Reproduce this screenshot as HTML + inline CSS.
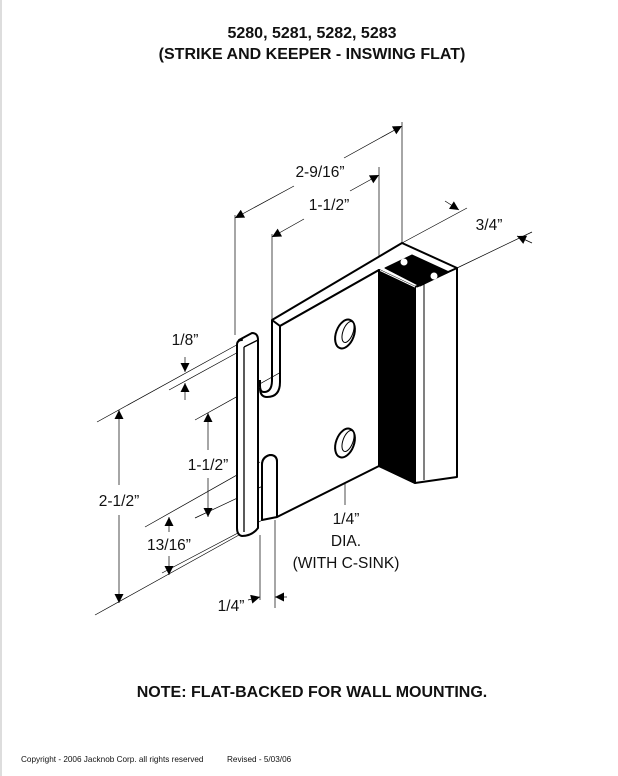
<!DOCTYPE html>
<html><head><meta charset="utf-8"><style>
html,body{margin:0;padding:0;background:#fff;}
body{width:618px;height:776px;overflow:hidden;position:relative;border-left:2px solid #ddd;box-sizing:border-box;}
svg{position:absolute;left:0;top:0;}
text{font-family:"Liberation Sans",Arial,sans-serif;fill:#111;}
</style></head><body>
<svg width="618" height="776" viewBox="0 0 618 776">
<defs>
<marker id="a" viewBox="0 0 10 10" refX="10" refY="5" markerWidth="10" markerHeight="9" markerUnits="userSpaceOnUse" orient="auto-start-reverse"><path d="M0,0 L10,5 L0,10 z" fill="#000"/></marker>
</defs>
<text x="310" y="38" font-size="16" font-weight="bold" text-anchor="middle">5280, 5281, 5282, 5283</text>
<text x="310" y="59" font-size="16" font-weight="bold" text-anchor="middle">(STRIKE AND KEEPER - INSWING FLAT)</text>

<g stroke="#000" stroke-width="0.7" fill="none">
<line x1="233" y1="215" x2="233" y2="335"/>
<line x1="400" y1="122" x2="400" y2="243"/>
<line x1="270" y1="234" x2="270" y2="320"/>
<line x1="377" y1="167" x2="377" y2="270"/>
<line x1="400" y1="243" x2="465" y2="208"/>
<line x1="455" y1="268" x2="530" y2="232"/>
<line x1="95" y1="422" x2="240" y2="342"/>
<line x1="167" y1="390" x2="240" y2="350"/>
<line x1="193" y1="420" x2="333" y2="342"/>
<line x1="143" y1="527" x2="258" y2="462"/>
<line x1="193" y1="518" x2="333" y2="452"/>
<line x1="160" y1="573" x2="270" y2="515"/>
<line x1="93" y1="615" x2="237" y2="535"/>
<line x1="258" y1="535" x2="258" y2="600"/>
<line x1="273" y1="520" x2="273" y2="608"/>
<line x1="233" y1="218" x2="292" y2="186" marker-start="url(#a)"/>
<line x1="342" y1="158" x2="400" y2="126" marker-end="url(#a)"/>
<line x1="270" y1="237" x2="302" y2="219" marker-start="url(#a)"/>
<line x1="348" y1="191" x2="377" y2="175" marker-end="url(#a)"/>
<line x1="443" y1="201" x2="457" y2="210" marker-end="url(#a)"/>
<line x1="530" y1="243" x2="515" y2="236" marker-end="url(#a)"/>
<line x1="183" y1="357" x2="183" y2="372" marker-end="url(#a)"/>
<line x1="183" y1="400" x2="183" y2="383" marker-end="url(#a)"/>
<line x1="206" y1="413" x2="206" y2="450" marker-start="url(#a)"/>
<line x1="206" y1="478" x2="206" y2="517" marker-end="url(#a)"/>
<line x1="117" y1="410" x2="117" y2="485" marker-start="url(#a)"/>
<line x1="117" y1="515" x2="117" y2="603" marker-end="url(#a)"/>
<line x1="167" y1="517" x2="167" y2="532" marker-start="url(#a)"/>
<line x1="167" y1="556" x2="167" y2="575" marker-end="url(#a)"/>
<line x1="246" y1="600" x2="258" y2="597" marker-end="url(#a)"/>
<line x1="285" y1="597" x2="273" y2="597" marker-end="url(#a)"/>
<line x1="343" y1="505" x2="343" y2="453" marker-end="url(#a)"/>
</g>

<g stroke="#000" stroke-width="2" fill="#fff" stroke-linejoin="round">
<path d="M270,320 L400,243 L455,268 L455,477 L413,483 L377,466 L377,270 L278,326 Z"/>
<path d="M377,270 L413,287 L413,483 L377,466 Z" fill="#000"/>
<path d="M413,287 L455,268" fill="none"/>
<path d="M415,287 L422,284 L422,480" fill="none" stroke-width="1"/>
<path d="M383,268 L410,255 L447,272 L418,286 Z" fill="#000" stroke-width="1"/>
<path d="M377,270 L413,287" fill="none" stroke="#fff" stroke-width="1"/>
<circle cx="402" cy="262" r="3.5" fill="#fff" stroke="none"/>
<circle cx="432" cy="276" r="3.5" fill="#fff" stroke="none"/>
<path d="M278,326 L377,270 L377,466 L275,517 L275,462 Q275,455 268,455 Q260,457 260,465 L260,518 L275,517" fill="#fff"/>
<path d="M270,320 L270,380 Q270,392 262,392 Q258,392 258,386 L258,380" fill="none"/>
<path d="M278,326 L278,382 Q278,397 265,397 Q258,397 258,388" fill="none"/>
<path d="M268,455 Q260,457 260,465 L260,520 L275,517 L275,462 Q275,455 268,455 Z"/>
<path d="M237,340 L250,333 Q256,333 256,340 L256,528 Q250,536 240,536 Q235,535 235,528 L235,345 Q235,340 240,340 Z"/>
<path d="M242,347 L256,340 M242,347 L242,532" fill="none" stroke-width="1.3"/>
<ellipse cx="343" cy="334" rx="9" ry="15" transform="rotate(20 343 334)"/>
<ellipse cx="346" cy="332" rx="5" ry="11" transform="rotate(20 346 332)" stroke-width="1"/>
<ellipse cx="343" cy="443" rx="9" ry="15" transform="rotate(20 343 443)"/>
<ellipse cx="346" cy="441" rx="5" ry="11" transform="rotate(20 346 441)" stroke-width="1"/>
</g>

<g font-size="15.5">
<text x="318" y="177" text-anchor="middle">2-9/16”</text>
<text x="327" y="210" text-anchor="middle">1-1/2”</text>
<text x="487" y="230" text-anchor="middle">3/4”</text>
<text x="183" y="345" text-anchor="middle">1/8”</text>
<text x="206" y="470" text-anchor="middle">1-1/2”</text>
<text x="117" y="506" text-anchor="middle">2-1/2”</text>
<text x="167" y="550" text-anchor="middle">13/16”</text>
<text x="229" y="611" text-anchor="middle">1/4”</text>
<text x="344" y="524" text-anchor="middle">1/4”</text>
<text x="344" y="546" text-anchor="middle">DIA.</text>
<text x="344" y="568" text-anchor="middle">(WITH C-SINK)</text>
</g>

<text x="310" y="697" font-size="16" font-weight="bold" text-anchor="middle">NOTE: FLAT-BACKED FOR WALL MOUNTING.</text>
<text x="19" y="762" font-size="8.2">Copyright - 2006 Jacknob Corp.  all rights reserved</text>
<text x="225" y="762" font-size="8.2">Revised - 5/03/06</text>
</svg>
</body></html>
